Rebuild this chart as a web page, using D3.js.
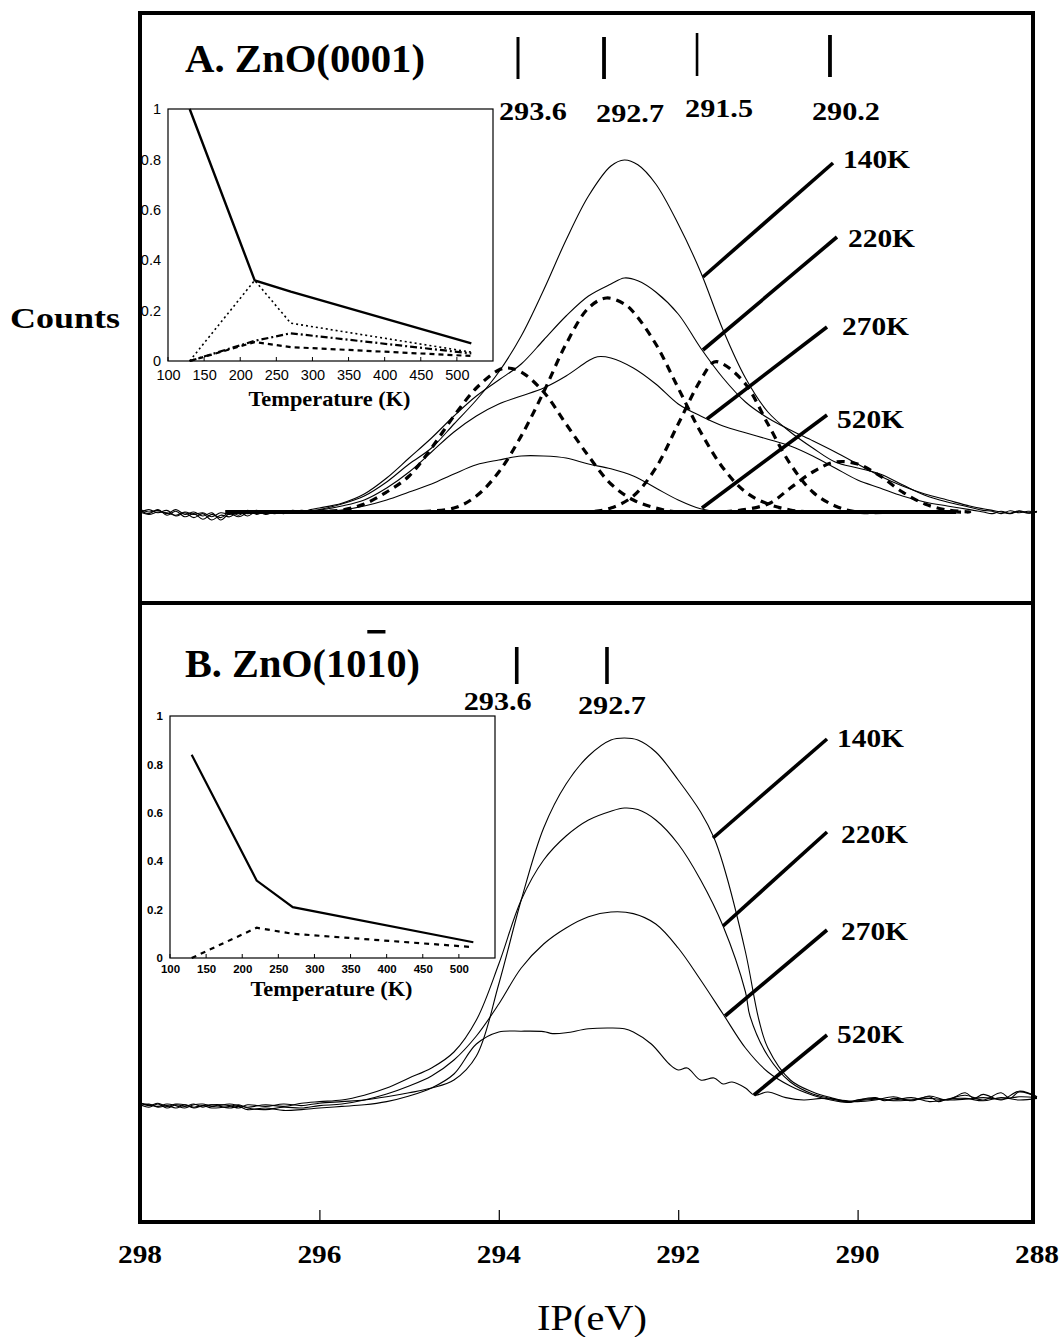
<!DOCTYPE html>
<html><head><meta charset="utf-8">
<script src="https://cdn.jsdelivr.net/npm/d3@7"></script>
<style>html,body{margin:0;padding:0;background:#fff}</style>
</head><body>
<script>
// ---------------- DATA ----------------
const xTickValues = [298, 296, 294, 292, 290, 288];
const xTickLabels = ["298", "296", "294", "292", "290", "288"];
const tempLabels = ["140K", "220K", "270K", "520K"];

// Panel A spectra [IP eV, counts]
const specA140 = [[298.0,0.004],[297.9,-0.004],[297.8,0.006],[297.7,-0.008],[297.6,0.002],[297.5,-0.012],[297.4,-0.004],[297.3,-0.018],[297.2,-0.006],[297.1,-0.014],[297.0,0.0],[296.9,-0.008],[296.8,0.004],[296.7,-0.006],[296.6,0.002],[296.5,-0.004],[296.4,0.002],[296.3,0.0],[296.2,0.004],[296.1,0.002],[296.0,0.006],[295.75,0.02],[295.5,0.04],[295.25,0.075],[295.0,0.12],[294.75,0.16],[294.5,0.22],[294.25,0.28],[294.0,0.35],[293.75,0.44],[293.5,0.555],[293.25,0.68],[293.0,0.79],[292.75,0.865],[292.6,0.88],[292.45,0.868],[292.25,0.82],[292.0,0.72],[291.75,0.6],[291.5,0.455],[291.25,0.335],[291.0,0.25],[290.75,0.2],[290.5,0.16],[290.25,0.125],[290.0,0.11],[289.75,0.095],[289.5,0.068],[289.25,0.042],[289.0,0.025],[288.75,0.012],[288.6,0.004],[288.5,0.002],[288.4,-0.004],[288.3,0.003],[288.2,-0.002],[288.1,0.002],[288.0,0.0]];
const specA220 = [[298.0,-0.002],[297.9,0.006],[297.8,-0.002],[297.7,0.004],[297.6,-0.01],[297.5,-0.002],[297.4,-0.014],[297.3,-0.004],[297.2,-0.02],[297.1,-0.008],[297.0,-0.012],[296.9,0.0],[296.8,-0.01],[296.7,0.002],[296.6,-0.006],[296.5,0.0],[296.4,-0.004],[296.3,0.004],[296.2,0.0],[296.1,0.006],[296.0,0.01],[295.75,0.022],[295.5,0.045],[295.25,0.085],[295.0,0.135],[294.75,0.185],[294.5,0.24],[294.25,0.29],[294.0,0.33],[293.75,0.37],[293.5,0.43],[293.25,0.49],[293.0,0.54],[292.75,0.57],[292.6,0.585],[292.45,0.578],[292.25,0.55],[292.0,0.495],[291.75,0.41],[291.5,0.335],[291.25,0.275],[291.0,0.235],[290.75,0.205],[290.5,0.178],[290.25,0.15],[290.0,0.12],[289.75,0.09],[289.5,0.065],[289.25,0.045],[289.0,0.03],[288.75,0.015],[288.6,0.008],[288.5,0.004],[288.4,0.0],[288.3,-0.004],[288.2,0.002],[288.1,-0.003],[288.0,0.002]];
const specA270 = [[298.0,0.006],[297.9,0.0],[297.8,0.004],[297.7,-0.004],[297.6,0.006],[297.5,-0.006],[297.4,0.0],[297.3,-0.01],[297.2,-0.002],[297.1,-0.02],[297.0,-0.004],[296.9,-0.012],[296.8,-0.002],[296.7,0.004],[296.6,-0.004],[296.5,0.002],[296.4,-0.002],[296.3,0.002],[296.2,-0.002],[296.1,0.003],[296.0,0.005],[295.75,0.015],[295.5,0.03],[295.25,0.06],[295.0,0.1],[294.75,0.15],[294.5,0.2],[294.25,0.24],[294.0,0.27],[293.75,0.29],[293.5,0.31],[293.25,0.34],[293.0,0.378],[292.9,0.388],[292.75,0.385],[292.5,0.36],[292.25,0.32],[292.0,0.27],[291.75,0.24],[291.5,0.215],[291.25,0.198],[291.0,0.182],[290.75,0.165],[290.5,0.14],[290.25,0.11],[290.0,0.08],[289.75,0.06],[289.5,0.04],[289.25,0.025],[289.0,0.015],[288.75,0.006],[288.6,0.0],[288.5,-0.004],[288.4,0.002],[288.3,-0.003],[288.2,0.003],[288.1,-0.002],[288.0,0.0]];
const specA520 = [[298.0,0.0],[297.9,-0.006],[297.8,0.0],[297.7,-0.002],[297.6,-0.008],[297.5,0.0],[297.4,-0.006],[297.3,-0.002],[297.2,-0.012],[297.1,-0.002],[297.0,-0.006],[296.9,0.002],[296.8,-0.004],[296.7,0.0],[296.6,0.002],[296.5,-0.002],[296.4,0.0],[296.2,0.002],[296.0,0.0],[295.75,0.005],[295.5,0.015],[295.25,0.03],[295.0,0.05],[294.75,0.07],[294.5,0.095],[294.25,0.118],[294.0,0.13],[293.75,0.14],[293.5,0.14],[293.25,0.135],[293.0,0.12],[292.75,0.108],[292.5,0.09],[292.25,0.06],[292.0,0.03],[291.75,0.008],[291.5,0.0],[291.0,0.0],[290.0,0.0],[289.0,0.0]];

// Panel A fitted components (dashed)
const fitA1 = [[296.2,0.0],[295.75,0.005],[295.5,0.02],[295.25,0.05],[295.0,0.09],[294.75,0.16],[294.5,0.24],[294.25,0.31],[294.0,0.355],[293.9,0.36],[293.75,0.35],[293.5,0.3],[293.25,0.22],[293.0,0.14],[292.75,0.07],[292.5,0.03],[292.25,0.01],[292.0,0.0],[291.6,0.0]];
const fitA2 = [[295.0,0.0],[294.5,0.01],[294.25,0.04],[294.0,0.1],[293.75,0.19],[293.5,0.3],[293.25,0.42],[293.0,0.51],[292.8,0.535],[292.6,0.52],[292.5,0.5],[292.25,0.42],[292.0,0.31],[291.75,0.2],[291.5,0.11],[291.25,0.05],[291.0,0.02],[290.75,0.005],[290.5,0.0],[290.1,0.0]];
const fitA3 = [[293.4,0.0],[293.0,0.0],[292.75,0.01],[292.5,0.04],[292.25,0.11],[292.0,0.22],[291.75,0.33],[291.6,0.375],[291.5,0.37],[291.25,0.32],[291.0,0.22],[290.75,0.12],[290.5,0.05],[290.25,0.015],[290.0,0.0],[289.6,0.0]];
const fitA4 = [[291.8,0.0],[291.5,0.0],[291.0,0.02],[290.75,0.06],[290.5,0.1],[290.25,0.125],[290.0,0.12],[289.75,0.09],[289.5,0.05],[289.25,0.02],[289.0,0.005],[288.75,0.0],[288.9,0.0]];
const fitBaseA = [[297.05,0.0],[288.9,0.0]];

// Panel B spectra
const specB140 = [[298.0,-0.012],[297.9,-0.018],[297.8,-0.01],[297.7,-0.02],[297.6,-0.012],[297.5,-0.016],[297.4,-0.01],[297.3,-0.018],[297.2,-0.012],[297.0,-0.014],[296.9,-0.02],[296.8,-0.012],[296.6,-0.016],[296.4,-0.01],[296.2,-0.014],[296.0,-0.008],[295.75,-0.004],[295.5,0.0],[295.25,0.008],[295.0,0.018],[294.75,0.03],[294.5,0.05],[294.25,0.11],[294.0,0.29],[293.75,0.5],[293.5,0.68],[293.25,0.79],[293.0,0.86],[292.75,0.9],[292.6,0.905],[292.45,0.9],[292.25,0.87],[292.0,0.8],[291.75,0.72],[291.6,0.655],[291.5,0.59],[291.25,0.37],[291.1,0.2],[291.0,0.13],[290.75,0.05],[290.5,0.02],[290.3,0.006],[290.1,-0.004],[290.0,0.0],[289.8,0.004],[289.6,0.0],[289.4,0.006],[289.2,-0.004],[289.0,0.002],[288.8,0.012],[288.6,0.0],[288.4,0.018],[288.3,0.004],[288.2,0.02],[288.0,0.008]];
const specB220 = [[298.0,-0.008],[297.9,-0.012],[297.8,-0.016],[297.7,-0.01],[297.6,-0.014],[297.5,-0.02],[297.4,-0.012],[297.3,-0.01],[297.2,-0.016],[297.0,-0.01],[296.9,-0.014],[296.8,-0.018],[296.6,-0.012],[296.4,-0.016],[296.2,-0.008],[296.0,-0.004],[295.75,0.0],[295.5,0.012],[295.25,0.03],[295.0,0.055],[294.75,0.08],[294.5,0.12],[294.25,0.2],[294.0,0.34],[293.75,0.5],[293.5,0.6],[293.25,0.66],[293.0,0.7],[292.75,0.722],[292.6,0.73],[292.45,0.726],[292.25,0.7],[292.0,0.64],[291.75,0.55],[291.5,0.435],[291.25,0.27],[291.2,0.21],[291.0,0.11],[290.75,0.045],[290.5,0.015],[290.3,0.004],[290.1,-0.006],[290.0,-0.002],[289.8,0.002],[289.6,-0.002],[289.4,0.0],[289.2,0.004],[289.0,0.0],[288.8,0.002],[288.6,0.006],[288.4,0.002],[288.2,0.008],[288.0,0.006]];
const specB270 = [[298.0,-0.014],[297.9,-0.01],[297.8,-0.018],[297.7,-0.014],[297.6,-0.02],[297.5,-0.012],[297.4,-0.018],[297.3,-0.014],[297.2,-0.02],[297.0,-0.016],[296.9,-0.012],[296.8,-0.02],[296.6,-0.024],[296.4,-0.018],[296.2,-0.02],[296.0,-0.014],[295.75,-0.01],[295.5,0.0],[295.25,0.015],[295.0,0.035],[294.75,0.06],[294.5,0.1],[294.25,0.16],[294.0,0.24],[293.75,0.33],[293.5,0.39],[293.25,0.43],[293.0,0.458],[292.75,0.47],[292.5,0.466],[292.25,0.44],[292.0,0.38],[291.75,0.3],[291.5,0.215],[291.25,0.13],[291.0,0.07],[290.75,0.035],[290.5,0.012],[290.3,0.0],[290.1,-0.006],[290.0,0.0],[289.8,0.006],[289.7,-0.002],[289.6,0.004],[289.4,0.0],[289.2,0.008],[289.1,-0.004],[289.0,0.002],[288.8,0.004],[288.6,-0.002],[288.4,0.006],[288.2,0.0],[288.0,0.004]];
const specB520 = [[298.0,-0.006],[297.9,-0.014],[297.8,-0.008],[297.7,-0.016],[297.6,-0.01],[297.5,-0.012],[297.4,-0.02],[297.3,-0.014],[297.2,-0.012],[297.0,-0.02],[296.9,-0.016],[296.8,-0.024],[296.6,-0.02],[296.4,-0.026],[296.2,-0.024],[296.0,-0.02],[295.75,-0.016],[295.5,-0.012],[295.25,-0.004],[295.0,0.01],[294.75,0.03],[294.5,0.065],[294.25,0.14],[294.0,0.17],[293.75,0.172],[293.5,0.171],[293.4,0.166],[293.25,0.168],[293.0,0.178],[292.75,0.18],[292.6,0.178],[292.5,0.17],[292.3,0.14],[292.1,0.09],[292.0,0.075],[291.9,0.08],[291.75,0.05],[291.6,0.055],[291.5,0.04],[291.4,0.045],[291.25,0.03],[291.15,0.012],[291.0,0.02],[290.8,0.006],[290.6,0.0],[290.4,0.004],[290.2,0.0],[290.0,-0.004],[289.8,0.0],[289.6,0.008],[289.4,-0.002],[289.2,0.01],[289.0,0.0],[288.8,0.018],[288.7,0.004],[288.6,0.014],[288.4,0.0],[288.2,0.022],[288.0,0.008]];

// Peak markers [position eV] and labels
const peakPosA = [293.786, 292.827, 291.79, 290.308];
const peakLabA = ["293.6", "292.7", "291.5", "290.2"];
const peakPosB = [293.80, 292.794];
const peakLabB = ["293.6", "292.7"];

// Temperature pointer lines: [eV, counts] start on curve -> end near label
const pointA = [[[291.724,0.5875],[290.274,0.8725]],[[291.724,0.405],[290.23,0.6875]],[[291.679,0.2325],[290.341,0.4625]],[[291.735,0.01],[290.341,0.2425]]];
const pointB = [[[291.612,0.655],[290.341,0.9025]],[[291.50,0.435],[290.341,0.67]],[[291.478,0.21],[290.341,0.425]],[[291.155,0.0125],[290.341,0.1625]]];

// Insets: fraction vs temperature
const insetTemps = [130, 220, 270, 520];
const insetA_total = [1.0, 0.32, 0.275, 0.07];
const insetA_dotted = [0.0, 0.32, 0.15, 0.035];
const insetA_dashdot = [0.0, 0.08, 0.11, 0.03];
const insetA_dashed = [0.0, 0.075, 0.055, 0.02];
const insetB_total = [0.84, 0.32, 0.21, 0.065];
const insetB_dashed = [0.0, 0.125, 0.10, 0.045];
const insetXTicks = [100,150,200,250,300,350,400,450,500];
const insetYTicks = [0,0.2,0.4,0.6,0.8,1];

// ---------------- DRAW ----------------
const W = 1062, H = 1337;
const svg = d3.select("body").append("svg").attr("width", W).attr("height", H)
  .style("font-family", "'Liberation Serif','Times New Roman',serif");

const x = d3.scaleLinear().domain([298, 288]).range([140, 1037]);
const yA = d3.scaleLinear().domain([0, 1]).range([512, 112]);
const yB = d3.scaleLinear().domain([0, 1]).range([1100, 700]);

const lineA = d3.line().x(d => x(d[0])).y(d => yA(d[1])).curve(d3.curveCatmullRom.alpha(0.5));
const lineB = d3.line().x(d => x(d[0])).y(d => yB(d[1])).curve(d3.curveCatmullRom.alpha(0.5));
const straightA = d3.line().x(d => x(d[0])).y(d => yA(d[1]));
const straightB = d3.line().x(d => x(d[0])).y(d => yB(d[1]));

// Panel A
const gA = svg.append("g");
gA.append("path").datum(fitBaseA).attr("d", straightA).attr("fill","none").attr("stroke","#000").attr("stroke-width",4);
[fitA1, fitA2, fitA3, fitA4].forEach(c => {
  gA.append("path").datum(c).attr("d", lineA).attr("fill","none").attr("stroke","#000")
    .attr("stroke-width",3.2).attr("stroke-dasharray","8,6");
});
[specA140, specA220, specA270, specA520].forEach(s => {
  gA.append("path").datum(s).attr("d", lineA).attr("fill","none").attr("stroke","#000").attr("stroke-width",1.1);
});
pointA.forEach(p => gA.append("path").datum(p).attr("d", straightA).attr("stroke","#000").attr("stroke-width",3.6));

// Panel B
const gB = svg.append("g");
[specB140, specB220, specB270, specB520].forEach(s => {
  gB.append("path").datum(s).attr("d", lineB).attr("fill","none").attr("stroke","#000").attr("stroke-width",1.1);
});
pointB.forEach(p => gB.append("path").datum(p).attr("d", straightB).attr("stroke","#000").attr("stroke-width",3.6));

// Temperature labels
const labAPos = [[843,168],[848,247],[842,335],[837,428]];
const labBPos = [[837,747],[841,843],[841,940],[837,1043]];
tempLabels.forEach((t,i) => {
  svg.append("text").attr("x", labAPos[i][0]).attr("y", labAPos[i][1]).text(t)
    .attr("font-size",26).attr("font-weight","bold").attr("textLength",67).attr("lengthAdjust","spacingAndGlyphs");
  svg.append("text").attr("x", labBPos[i][0]).attr("y", labBPos[i][1]).text(t)
    .attr("font-size",26).attr("font-weight","bold").attr("textLength",67).attr("lengthAdjust","spacingAndGlyphs");
});

// Peak markers
const markYA = [[37,79,3],[37,79,3.8],[33,76,2.6],[35,77,3.8]];
const labDxA = [15, 26, 22, 16];
const labYA = [120, 122, 117, 120];
peakPosA.forEach((p,i) => {
  svg.append("line").attr("x1", x(p)).attr("x2", x(p)).attr("y1", markYA[i][0]).attr("y2", markYA[i][1])
    .attr("stroke","#000").attr("stroke-width", markYA[i][2]);
  svg.append("text").attr("x", x(p)+labDxA[i]).attr("y", labYA[i]).attr("text-anchor","middle")
    .text(peakLabA[i]).attr("font-size",26).attr("font-weight","bold").attr("textLength",68).attr("lengthAdjust","spacingAndGlyphs");
});
const labDxB = [-19, 5];
const labYB = [710, 714];
peakPosB.forEach((p,i) => {
  svg.append("line").attr("x1", x(p)).attr("x2", x(p)).attr("y1", 647).attr("y2", 684)
    .attr("stroke","#000").attr("stroke-width", 3.6);
  svg.append("text").attr("x", x(p)+labDxB[i]).attr("y", labYB[i]).attr("text-anchor","middle")
    .text(peakLabB[i]).attr("font-size",26).attr("font-weight","bold").attr("textLength",68).attr("lengthAdjust","spacingAndGlyphs");
});

// Titles
svg.append("text").attr("x",185).attr("y",72).text("A. ZnO(0001)")
  .attr("font-size",40).attr("font-weight","bold").attr("textLength",240).attr("lengthAdjust","spacingAndGlyphs");
const tB = svg.append("text").attr("x",185).attr("y",677).text("B. ZnO(1010)")
  .attr("font-size",40).attr("font-weight","bold").attr("textLength",235).attr("lengthAdjust","spacingAndGlyphs");
try {
  const ext = tB.node().getExtentOfChar(9);
  svg.append("rect").attr("x", ext.x + 1).attr("y", 630).attr("width", Math.max(ext.width - 2, 14)).attr("height", 3.5).attr("fill","#000");
} catch(e) {
  svg.append("rect").attr("x",368).attr("y",630).attr("width",20).attr("height",3.5).attr("fill","#000");
}

// Insets
function drawInset(box, series, opts) {
  const g = svg.append("g");
  const ix = d3.scaleLinear().domain([100, 550]).range([box.l, box.r]);
  const iy = d3.scaleLinear().domain([0, 1]).range([box.b, box.t]);
  g.append("rect").attr("x", box.l).attr("y", box.t).attr("width", box.r-box.l).attr("height", box.b-box.t)
    .attr("fill","#fff").attr("stroke","#000").attr("stroke-width",1.2);
  const axX = d3.axisBottom(ix).tickValues(insetXTicks).tickSize(0).tickPadding(opts.xPad).tickFormat(d3.format("d"));
  const gx = g.append("g").attr("transform", `translate(0,${box.b})`).call(axX);
  gx.select(".domain").remove();
  gx.selectAll("text").attr("font-family","'Liberation Sans',Arial,sans-serif").attr("font-size",opts.fs)
    .attr("font-weight",opts.fw).attr("fill","#000");
  insetXTicks.forEach(v => g.append("line").attr("x1",ix(v)).attr("x2",ix(v)).attr("y1",box.b).attr("y2",box.b-4).attr("stroke","#000").attr("stroke-width",1));
  const axY = d3.axisLeft(iy).tickValues(insetYTicks).tickSize(0).tickPadding(opts.yPad).tickFormat(d => d === 0 ? "0" : d === 1 ? "1" : d3.format(".1f")(d));
  const gy = g.append("g").attr("transform", `translate(${box.l},0)`).call(axY);
  gy.select(".domain").remove();
  gy.selectAll("text").attr("font-family","'Liberation Sans',Arial,sans-serif").attr("font-size",opts.fs)
    .attr("font-weight",opts.fw).attr("fill","#000");
  const ln = d3.line().x((d,i) => ix(insetTemps[i])).y(d => iy(d));
  series.forEach(s => {
    g.append("path").datum(s.v).attr("d", ln).attr("fill","none").attr("stroke","#000")
      .attr("stroke-width", s.w).attr("stroke-dasharray", s.dash || null);
  });
  g.append("text").attr("x", (box.l+box.r)/2 - 1).attr("y", opts.tY).attr("text-anchor","middle")
    .text("Temperature (K)").attr("font-size",22).attr("font-weight","bold")
    .attr("textLength",162).attr("lengthAdjust","spacingAndGlyphs");
}
drawInset({l:168, r:493, t:109, b:361}, [
  {v: insetA_total, w: 2.4},
  {v: insetA_dotted, w: 1.6, dash: "2,3"},
  {v: insetA_dashdot, w: 2.2, dash: "7,3,2,3"},
  {v: insetA_dashed, w: 2.2, dash: "5,4"}
], {fs: 14.5, fw: "normal", xPad: 9, yPad: 7, tY: 406});
drawInset({l:170, r:495, t:716, b:958}, [
  {v: insetB_total, w: 2.2},
  {v: insetB_dashed, w: 2.2, dash: "5,5"}
], {fs: 11.5, fw: "bold", xPad: 7, yPad: 7, tY: 996});

// Frame and divider
svg.append("rect").attr("x",140).attr("y",13).attr("width",893).attr("height",1209)
  .attr("fill","none").attr("stroke","#000").attr("stroke-width",4);
svg.append("line").attr("x1",140).attr("x2",1033).attr("y1",603).attr("y2",603).attr("stroke","#000").attr("stroke-width",4);

// Bottom axis ticks
const axT = d3.axisTop(x).tickValues([296,294,292,290]).tickSize(10).tickFormat("");
const gT = svg.append("g").attr("transform","translate(0,1220)").call(axT);
gT.select(".domain").remove();
gT.selectAll("line").attr("stroke-width",1.2);

xTickValues.forEach((v,i) => {
  svg.append("text").attr("x", x(v)).attr("y", 1263).attr("text-anchor","middle").text(xTickLabels[i])
    .attr("font-size",26).attr("font-weight","bold").attr("textLength",44).attr("lengthAdjust","spacingAndGlyphs");
});

svg.append("text").attr("x",592).attr("y",1330).attr("text-anchor","middle").text("IP(eV)")
  .attr("font-size",36).attr("textLength",110).attr("lengthAdjust","spacingAndGlyphs");
svg.append("text").attr("x",10).attr("y",328).text("Counts")
  .attr("font-size",30).attr("font-weight","bold").attr("textLength",110).attr("lengthAdjust","spacingAndGlyphs");
</script>
</body></html>
